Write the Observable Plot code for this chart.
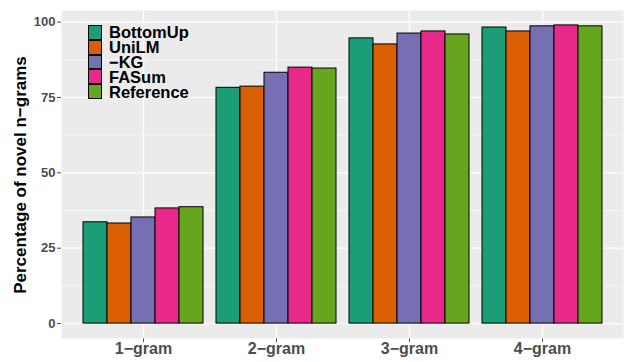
<!DOCTYPE html>
<html><head><meta charset="utf-8">
<script src="https://cdn.jsdelivr.net/npm/d3@7"></script>
<script src="https://cdn.jsdelivr.net/npm/@observablehq/plot@0.6"></script>
<style>
body{margin:0;background:#fff;}
#wrap{position:relative;width:638px;height:362px;font-family:"Liberation Sans",Arial,sans-serif;overflow:hidden;}
#wrap svg{position:absolute;left:0;top:0;}
#legend{position:absolute;left:88px;top:25px;}
.row{display:flex;align-items:center;height:14.8px;}
.key{width:14px;height:14.8px;box-sizing:border-box;border:1px solid #000;}
.lab{margin-left:7px;font-size:16.5px;font-weight:bold;color:#000;line-height:14px;white-space:nowrap;}
#ytitle{position:absolute;left:21px;top:175px;transform:translate(-50%,-50%) rotate(-90deg);font-size:17px;font-weight:bold;color:#000;white-space:nowrap;}
</style></head>
<body><div id="wrap"></div>
<script>
const categories = ["1\u2212gram","2\u2212gram","3\u2212gram","4\u2212gram"];
const models = ["BottomUp","UniLM","\u2212KG","FASum","Reference"];
const colors = ["#1B9E77","#D95F02","#7570B3","#E7298A","#66A61E"];
const BottomUp = [33.6, 78.2, 94.6, 98.2];
const UniLM = [33.2, 78.6, 92.6, 96.9];
const KG = [35.2, 83.2, 96.2, 98.6];
const FASum = [38.2, 84.9, 96.9, 98.9];
const Reference = [38.6, 84.6, 95.9, 98.6];
const yTicks = [0, 25, 50, 75, 100];
const yMinor = [12.5, 37.5, 62.5, 87.5];
const yTitle = "Percentage of novel n\u2212grams";

const series = [BottomUp, UniLM, KG, FASum, Reference];
const data = [];
categories.forEach((c, ci) => models.forEach((m, mi) => data.push({category: c, model: m, value: series[mi][ci]})));

const W = 638, H = 362, mL = 61, mR = 15, mT = 10, mB = 24;
const yMax = d3.max(data, d => d.value);
const pad = yMax * 0.05;
const yDomain = [-pad, yMax + pad];
const font = "'Liberation Sans', Arial, sans-serif";

const bg = Plot.plot({
  width: W, height: H, marginLeft: mL, marginRight: mR, marginTop: mT, marginBottom: mB,
  style: {background: "transparent", fontFamily: font, fontSize: "16px", fontWeight: "bold", color: "#4D4D4D"},
  x: {type: "point", domain: categories, padding: 0.6, tickSize: 4, tickPadding: 0, label: null},
  y: {domain: yDomain, ticks: yTicks, tickSize: 4, tickPadding: 2, label: null, tickFormat: d => String(d)},
  marks: [
    Plot.frame({fill: "#EBEBEB", stroke: null}),
    Plot.ruleY(yMinor, {stroke: "white", strokeWidth: 0.6}),
    Plot.ruleY(yTicks, {stroke: "white", strokeWidth: 1.2}),
    Plot.ruleX(categories, {stroke: "white", strokeWidth: 1.2})
  ]
});
d3.select(bg).selectAll("text").each(function() {
  if (/^\d+$/.test(this.textContent.trim())) this.style.fontSize = "13px";
});

const fg = Plot.plot({
  width: W, height: H, marginLeft: mL, marginRight: mR, marginTop: mT, marginBottom: mB,
  style: {background: "transparent", fontFamily: font},
  facet: {data: data, x: "category"},
  fx: {domain: categories, paddingInner: 0.1, paddingOuter: 0.15, axis: null, label: null},
  x: {domain: models, padding: 0, axis: null},
  y: {domain: yDomain, axis: null},
  color: {domain: models, range: colors},
  marks: [
    Plot.barY(data, {x: "model", y: "value", fill: "model", stroke: "black", strokeWidth: 1, inset: 0})
  ]
});

const wrap = document.getElementById("wrap");
wrap.appendChild(bg);
wrap.appendChild(fg);

const t = document.createElement("div");
t.id = "ytitle"; t.textContent = yTitle;
wrap.appendChild(t);

const leg = document.createElement("div");
leg.id = "legend";
models.forEach((m, i) => {
  const r = document.createElement("div"); r.className = "row";
  const k = document.createElement("div"); k.className = "key"; k.style.background = colors[i];
  const l = document.createElement("div"); l.className = "lab"; l.textContent = m;
  r.appendChild(k); r.appendChild(l); leg.appendChild(r);
});
wrap.appendChild(leg);
</script>
</body></html>
